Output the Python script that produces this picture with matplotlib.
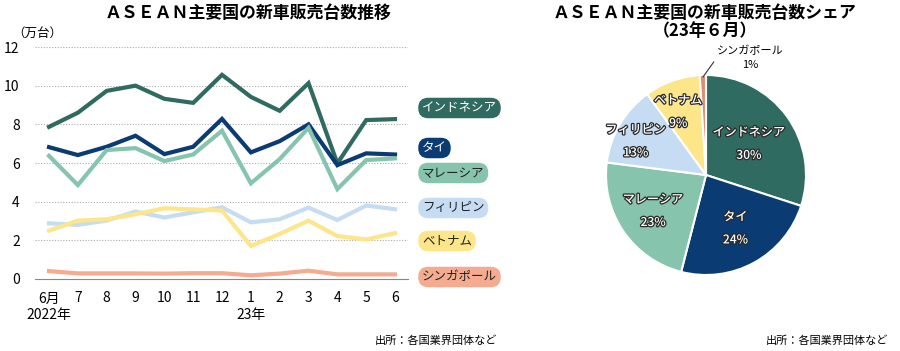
import numpy as np
import matplotlib.pyplot as plt
import matplotlib.patheffects as pe

plt.rcParams['font.family'] = ['Noto Sans CJK JP', 'DejaVu Sans']

months = ['6月', '7', '8', '9', '10', '11', '12', '1', '2', '3', '4', '5', '6']
countries = ['インドネシア', 'タイ', 'マレーシア', 'フィリピン', 'ベトナム', 'シンガポール']
indonesia = [7.87, 8.6, 9.73, 10.0, 9.32, 9.11, 10.56, 9.42, 8.7, 10.13, 5.98, 8.22, 8.27]
thai = [6.82, 6.41, 6.84, 7.41, 6.46, 6.84, 8.28, 6.55, 7.13, 8.0, 5.89, 6.5, 6.44]
malaysia = [6.37, 4.86, 6.67, 6.77, 6.1, 6.44, 7.67, 4.95, 6.2, 7.82, 4.65, 6.15, 6.24]
philippines = [2.88, 2.8, 3.02, 3.49, 3.18, 3.45, 3.71, 2.93, 3.09, 3.69, 3.05, 3.8, 3.61]
vietnam = [2.5, 3.02, 3.09, 3.35, 3.66, 3.6, 3.54, 1.71, 2.33, 3.02, 2.22, 2.05, 2.37]
singapore = [0.41, 0.29, 0.29, 0.29, 0.28, 0.3, 0.3, 0.19, 0.28, 0.43, 0.24, 0.24, 0.24]
series = [indonesia, thai, malaysia, philippines, vietnam, singapore]
share = [30, 24, 23, 13, 9, 1]

line_colors = ['#2f6b60', '#0b3b73', '#86c4ae', '#c6dcf2', '#fde58a', '#f4ab90']
pie_colors = ['#2f6b60', '#0b3b73', '#86c4ae', '#c6dcf2', '#fde58a', '#e08b72']
label_y = [108, 148, 173, 208, 241, 277]   # pixel rows of the legend boxes
text_colors = ['white', 'white', '#222222', '#222222', '#222222', '#222222']

W, H = 900, 351
fig = plt.figure(figsize=(9, 3.51), dpi=100)

# ---- left: line chart
ax = fig.add_axes([35 / W, (H - 279) / H, 373 / W, 232 / H])
x = np.arange(len(months))
for vals, c in zip(series, line_colors):
    ax.plot(x, vals, color=c, lw=3.0, solid_joinstyle='miter', clip_on=False)
ax.set_xlim(-0.486, 12.45)
ax.set_ylim(0, 12)
for v in range(2, 13, 2):
    ax.axhline(v, color='#aaaaaa', lw=0.8, ls=(0, (1, 1.5)), zorder=0)
for s in ['top', 'right', 'left']:
    ax.spines[s].set_visible(False)
ax.spines['bottom'].set_color('#888888')
ax.set_yticks(range(0, 13, 2))
ax.set_yticklabels([str(v) for v in range(0, 13, 2)], fontsize=10)
ax.tick_params(axis='y', length=0, pad=11)
ax.set_xticks(x)
ax.set_xticklabels(months, fontsize=10)
ax.tick_params(axis='x', length=0, pad=9)
ax.text(0, -0.155, '2022年', transform=ax.get_xaxis_transform(), ha='center', va='center', fontsize=10)
ax.text(7, -0.155, '23年', transform=ax.get_xaxis_transform(), ha='center', va='center', fontsize=10)
fig.text(12 / W, 1 - 33 / H, '（万台）', ha='left', va='center', fontsize=9)
fig.text(248 / W, 1 - 13 / H, 'ＡＳＥＡＮ主要国の新車販売台数推移', ha='center', va='center',
         fontsize=12.2, fontweight='bold')

for name, yp, c, tc in zip(countries, label_y, line_colors, text_colors):
    fig.text(422 / W, 1 - yp / H, name, ha='left', va='center', fontsize=9, color=tc,
             bbox=dict(boxstyle='round,pad=0.3,rounding_size=0.8', fc=c, ec='none'))

fig.text(497 / W, 1 - 341 / H, '出所：各国業界団体など', ha='right', va='center', fontsize=8)

# ---- right: pie chart
pax = fig.add_axes([606 / W, (H - 275) / H, 200 / W, 200 / H])
wedges, _ = pax.pie(share, colors=pie_colors, startangle=90, counterclock=False,
                    wedgeprops=dict(edgecolor='white', linewidth=1.5))
pax.set_xlim(-1, 1)
pax.set_ylim(-1, 1)
pax.set_aspect('equal')

# label distance from centre and angle nudge (deg) per slice
dist = [0.53, 0.61, 0.64, 0.78, 0.69]
nudge = [0, 0, 0, 5, 4]
stroke = [pe.withStroke(linewidth=1.8, foreground='#2a2a2a')]
for w, name, pct, d, n in zip(wedges[:5], countries[:5], share[:5], dist, nudge):
    ang = np.deg2rad((w.theta1 + w.theta2) / 2 + n)
    txt = pax.text(d * np.cos(ang), d * np.sin(ang), f'{name}\n{pct}%', ha='center', va='center',
                   fontsize=8.7, color='white', fontweight='medium', linespacing=2.0)
    txt.set_path_effects(stroke)

w = wedges[5]
ang = np.deg2rad((w.theta1 + w.theta2) / 2)
pax.annotate(f'{countries[5]}\n{share[5]}%', xy=(np.cos(ang) * 0.98, np.sin(ang) * 0.98),
             xytext=(0.44, 1.17), ha='center', va='center', fontsize=8, linespacing=1.5,
             arrowprops=dict(arrowstyle='-', color='#333333', lw=0.8,
                             shrinkA=0, shrinkB=0, relpos=(0, 0.5)),
             annotation_clip=False)

fig.text(705 / W, 1 - 13 / H, 'ＡＳＥＡＮ主要国の新車販売台数シェア', ha='center', va='center',
         fontsize=12.2, fontweight='bold')
fig.text(705 / W, 1 - 31 / H, '（23年６月）', ha='center', va='center',
         fontsize=12.2, fontweight='bold')
fig.text(888 / W, 1 - 341 / H, '出所：各国業界団体など', ha='right', va='center', fontsize=8)

fig.savefig('out.png', dpi=100)
